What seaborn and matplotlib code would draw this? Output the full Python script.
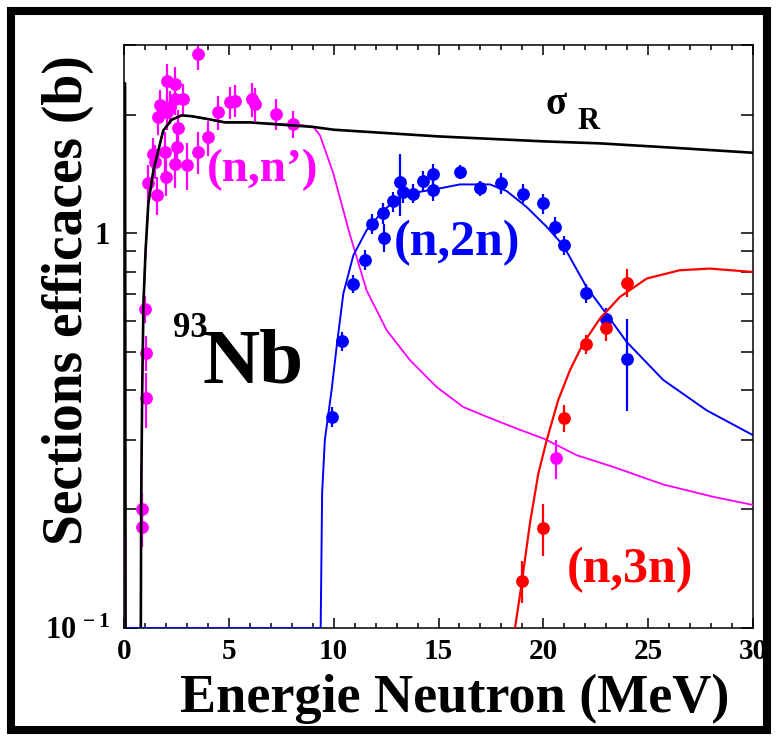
import numpy as np
import pandas as pd
import matplotlib
matplotlib.use("Agg")
import matplotlib.pyplot as plt
import seaborn as sns
from matplotlib.ticker import FixedLocator, MultipleLocator, FixedFormatter, NullFormatter
from matplotlib.patches import Rectangle

# ---- model curves (energy in MeV, cross section in barn) ----
sigr_e = [0.05, 0.08, 0.7, 0.80, 0.82, 0.87, 0.93, 1.03, 1.16, 1.40, 1.87, 2.27, 2.75,
          3.23, 3.94, 4.82, 6.0, 9.03, 10.0, 15.0, 20.0, 22.7, 26.0, 30.0]
sigr_s = [2.40, 0.05, 0.05, 0.09, 0.21, 0.41, 0.67, 0.906, 1.19, 1.44, 1.82, 1.94, 1.99,
          1.98, 1.95, 1.91, 1.91, 1.86, 1.83, 1.76, 1.71, 1.69, 1.65, 1.60]

nn_e = [0.0, 0.03, 0.7, 0.80, 0.82, 0.87, 0.93, 1.03, 1.16, 1.40, 1.87, 2.27, 2.75, 3.23,
        3.94, 4.82, 6.0, 8.5, 9.03, 9.35, 9.98, 10.78, 11.57, 12.53, 13.64, 14.91, 16.18,
        17.30, 18.73, 20.08, 21.59, 23.33, 25.72, 28.10, 30.0]
nn_s = [0.17, 0.05, 0.05, 0.09, 0.21, 0.41, 0.67, 0.906, 1.19, 1.44, 1.82, 1.94, 1.99, 1.98,
        1.95, 1.91, 1.91, 1.88, 1.86, 1.77, 1.42, 0.99, 0.717, 0.568, 0.477, 0.408, 0.363,
        0.343, 0.320, 0.301, 0.274, 0.256, 0.231, 0.215, 0.205]

n2n_e = [0.0, 9.38, 9.45, 9.58, 9.90, 10.14, 10.46, 10.94, 11.57, 12.37, 13.16, 13.96,
         15.07, 16.02, 17.45, 18.25, 19.20, 20.15, 20.95, 22.06, 22.94, 23.97, 25.72,
         27.79, 30.0]
n2n_s = [0.1, 0.1, 0.22, 0.30, 0.40, 0.515, 0.703, 0.88, 1.018, 1.143, 1.236, 1.27,
         1.30, 1.33, 1.33, 1.28, 1.166, 1.04, 0.932, 0.731, 0.632, 0.531, 0.425,
         0.356, 0.308]

n3n_e = [18.5, 18.65, 18.97, 19.36, 19.76, 20.16, 20.71, 21.27, 21.90, 22.70, 23.65,
         24.93, 26.50, 27.94, 30.0]
n3n_s = [0.05, 0.1, 0.130, 0.184, 0.246, 0.299, 0.378, 0.450, 0.526, 0.608, 0.690,
         0.768, 0.806, 0.814, 0.798]

# ---- measurements ----
nn_x = [0.84, 0.84, 1.0, 1.03, 1.03, 1.16, 1.40, 1.48, 1.56, 1.64, 1.72, 1.96, 2.0,
        2.04, 2.04, 2.19, 2.43, 2.43, 2.43, 2.51, 2.59, 2.83, 2.99, 3.54, 3.54, 4.02,
        4.5, 5.05, 5.29, 6.09, 6.25, 7.25, 8.04, 20.6]
nn_y = [0.18, 0.20, 0.644, 0.498, 0.382, 1.34, 1.59, 1.52, 1.25, 1.97, 2.11, 1.61, 1.39,
        2.43, 2.03, 2.09, 2.39, 2.19, 1.50, 1.65, 1.85, 2.19, 1.49, 2.85, 1.61, 1.75,
        2.03, 2.15, 2.17, 2.19, 2.13, 2.01, 1.89, 0.269]
nn_err = [0.02, 0.02, 0.05, 0.05, 0.06, 0.15, 0.15, 0.15, 0.14, 0.2, 0.2, 0.2, 0.15,
          0.25, 0.2, 0.2, 0.25, 0.2, 0.2, 0.2, 0.2, 0.2, 0.2, 0.25, 0.2, 0.18,
          0.2, 0.2, 0.2, 0.22, 0.2, 0.18, 0.15, 0.03]

n2n_x = [9.90, 10.41, 10.94, 11.49, 11.81, 12.37, 12.41, 12.84, 13.16, 13.32, 13.80,
         14.27, 14.75, 14.75, 16.02, 16.98, 17.98, 19.01, 19.99, 20.55, 20.98, 22.03,
         22.98, 23.97]
n2n_y = [0.343, 0.533, 0.746, 0.855, 1.058, 1.126, 0.975, 1.205, 1.349, 1.272, 1.26,
         1.36, 1.416, 1.285, 1.43, 1.30, 1.34, 1.26, 1.19, 1.04, 0.932, 0.706, 0.605,
         0.48]
n2n_err = [0.02, 0.03, 0.04, 0.05, 0.06, 0.07, 0.08, 0.07, 0.24, 0.08, 0.07, 0.08,
           0.08, 0.08, 0.06, 0.06, 0.08, 0.07, 0.07, 0.06, 0.05, 0.04, 0.04, 0.125]

n3n_x = [18.99, 20.0, 21.0, 22.03, 22.98, 23.97]
n3n_y = [0.1315, 0.179, 0.340, 0.524, 0.574, 0.750]
n3n_err = [0.016, 0.027, 0.027, 0.03, 0.04, 0.06]

# ---- colours ----
c_sigr = "black"
c_nn = "#ff00ff"
c_n2n = "#0000ff"
c_n3n = "#ff0000"

sns.set_theme(style="ticks")
plt.rcParams["font.family"] = ["Liberation Serif", "DejaVu Serif"]
plt.rcParams["font.weight"] = "bold"
plt.rcParams["text.color"] = "black"
plt.rcParams["axes.labelcolor"] = "black"
plt.rcParams["xtick.color"] = "black"
plt.rcParams["ytick.color"] = "black"
plt.rcParams["mathtext.fontset"] = "custom"
plt.rcParams["mathtext.rm"] = "Liberation Serif:bold"
plt.rcParams["mathtext.bf"] = "Liberation Serif:bold"
plt.rcParams["mathtext.it"] = "Liberation Serif:bold"

W, H = 778, 741
fig = plt.figure(figsize=(W / 100, H / 100), dpi=100)
ax = fig.add_axes([124 / W, 113 / H, 629 / W, 583 / H])
ax.set_yscale("log")

# measured points with vertical error bars
for xs, ys, es, col in [(nn_x, nn_y, nn_err, c_nn),
                        (n2n_x, n2n_y, n2n_err, c_n2n),
                        (n3n_x, n3n_y, n3n_err, c_n3n)]:
    ax.errorbar(xs, ys, yerr=es, fmt="none", ecolor=col, elinewidth=1.6,
                capsize=0, zorder=2)
    sns.scatterplot(x=xs, y=ys, ax=ax, color=col, s=85, linewidth=0,
                    zorder=3, legend=False)

# model curves
curves = [(nn_e, nn_s, c_nn, 1.3), (n2n_e, n2n_s, c_n2n, 1.4),
          (n3n_e, n3n_s, c_n3n, 1.6), (sigr_e, sigr_s, c_sigr, 1.9)]
for xs, ys, col, lw in curves:
    df = pd.DataFrame({"E": xs, "sigma": ys})
    sns.lineplot(data=df, x="E", y="sigma", ax=ax, color=col, lw=lw,
                 sort=False, estimator=None, zorder=4, legend=False)

ax.set_xlim(0, 30)
ax.set_ylim(0.1, 3.0)
ax.set_xlabel("")
ax.set_ylabel("")

ax.xaxis.set_major_locator(MultipleLocator(5))
ax.xaxis.set_minor_locator(MultipleLocator(1))
ax.yaxis.set_major_locator(FixedLocator([0.1, 1.0]))
ax.yaxis.set_major_formatter(FixedFormatter([r"$10^{\,-1}$", "1"]))
ax.yaxis.set_minor_locator(FixedLocator([0.2, 0.3, 0.4, 0.5, 0.6, 0.7, 0.8, 0.9, 2.0, 3.0]))
ax.yaxis.set_minor_formatter(NullFormatter())

ax.tick_params(axis="both", which="both", direction="in", top=True, right=True,
               width=1.1, color="black", labelcolor="black")
ax.tick_params(axis="x", which="major", length=7.5, labelsize=21, pad=7)
ax.tick_params(axis="x", which="minor", length=3.8)
ax.tick_params(axis="y", which="major", length=9, labelsize=22, pad=10)
ax.tick_params(axis="y", which="minor", length=8.5)
for lab in ax.get_xticklabels() + ax.get_yticklabels():
    lab.set_fontweight("bold")
for sp in ax.spines.values():
    sp.set_linewidth(1.1)
    sp.set_color("black")

# curve labels
ax.text(20.08, 2.01, "σ", fontsize=28, color="black", ha="left", va="baseline")
ax.text(21.65, 1.84, "R", fontsize=22, color="black", ha="left", va="baseline")
ax.text(6.63, 1.36, "(n,n’)", fontsize=34, color=c_nn, ha="center", va="baseline")
ax.text(15.9, 0.88, "(n,2n)", fontsize=36, color=c_n2n, ha="center", va="baseline")
ax.text(24.15, 0.131, "(n,3n)", fontsize=36, color=c_n3n, ha="center", va="baseline")
ax.text(2.34, 0.545, "93", fontsize=25, color="black", ha="left", va="baseline")
ax.text(3.75, 0.42, "Nb", fontsize=57, color="black", ha="left", va="baseline")

# axis titles
fig.text(455 / W, 1 - 712 / H, "Energie Neutron (MeV)", fontsize=39,
         ha="center", va="baseline", fontweight="bold", color="black")
fig.text(68 / W, 1 - 300 / H, "Sections efficaces (b)", fontsize=40,
         ha="center", va="center", rotation=90, fontweight="bold", color="black")

# frame around the whole figure
fig.patches.append(Rectangle((11 / W, 11 / H), 1 - 22 / W, 1 - 22 / H,
                             transform=fig.transFigure, fill=False,
                             edgecolor="black", linewidth=5.8, zorder=10))

fig.savefig("out.png", dpi=100, facecolor="white")
